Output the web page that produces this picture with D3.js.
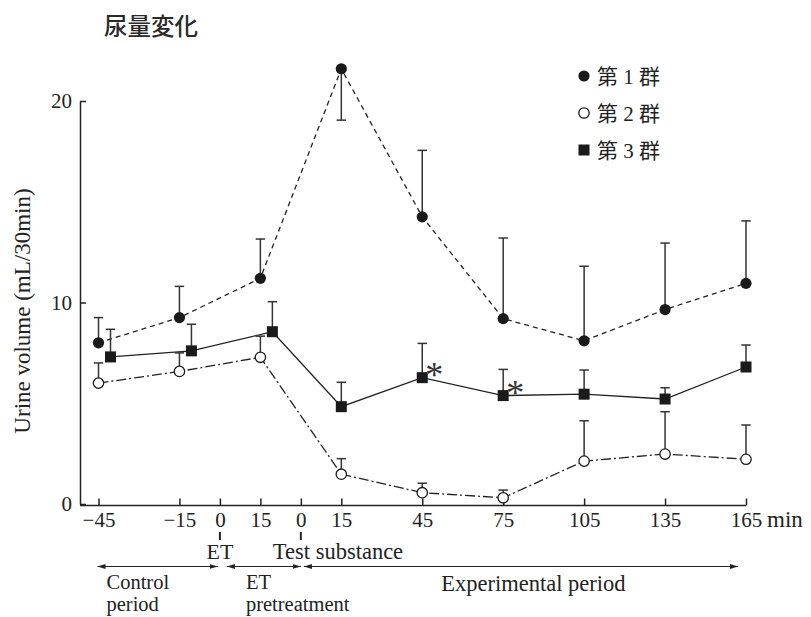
<!DOCTYPE html>
<html>
<head>
<meta charset="utf-8">
<script src="https://cdn.jsdelivr.net/npm/d3@7"></script>
<style>
  html, body { margin: 0; padding: 0; background: #fff; }
  svg { display: block; }
  text { fill: #222; }
</style>
</head>
<body>
<svg id="chart" width="811" height="617"></svg>
<script>
// Elapsed time (min) on a continuous axis: ET given at 0, test substance at 30.
const tickTimes  = [-45, -15, 0, 15, 30, 45, 75, 105, 135, 165, 195];
const tickLabels = ["\u221245", "\u221215", "0", "15", "0", "15", "45", "75", "105", "135", "165"];
const sampleTimes = [-45, -15, 15, 45, 75, 105, 135, 165, 195];
const yTicks = [0, 10, 20];

// Urine volume (mL/30min): mean and error-bar end point per sample
const group1Mean  = [8.0, 9.25, 11.2, 21.6, 14.25, 9.2, 8.1, 9.65, 10.95];
const group1Bound = [9.25, 10.8, 13.15, 19.05, 17.55, 13.2, 11.8, 12.95, 14.05];
const group2Mean  = [6.0, 6.58, 7.28, 1.48, 0.56, 0.31, 2.13, 2.48, 2.22];
const group2Bound = [7.0, 7.5, 8.33, 2.25, 1.03, 0.69, 4.13, 4.58, 3.92];
const group3Mean  = [7.3, 7.6, 8.55, 4.83, 6.27, 5.38, 5.45, 5.21, 6.8];
const group3Bound = [8.67, 8.92, 10.04, 6.04, 7.97, 6.68, 6.65, 5.77, 7.89];
const group3Significant = [false, false, false, false, true, true, false, false, false];

const legendLabels = ["第 1 群", "第 2 群", "第 3 群"];
const periods = [
  { start: -45, end: 0,   lines: ["Control", "period"] },
  { start: 0,   end: 30,  lines: ["ET", "pretreatment"] },
  { start: 30,  end: 195, lines: ["Experimental period"] }
];
const events = [{ t: 0, label: "ET" }, { t: 30, label: "Test substance" }];

const serif = "'Liberation Serif', 'Noto Sans CJK JP', serif";
const ink = "#222";

const svg = d3.select("#chart");
const x = d3.scaleLinear().domain([-45, 195]).range([98.5, 746]);
const y = d3.scaleLinear().domain([0, 20]).range([504, 101]);

// Title
svg.append("text")
  .attr("x", 104).attr("y", 35)
  .style("font-family", "'Noto Sans CJK JP', sans-serif")
  .style("font-size", "23.5px").style("font-weight", 500)
  .style("fill", "#2a2a2a")
  .text("尿量変化");

// Y axis
const yAxis = svg.append("g")
  .attr("transform", "translate(80,0)")
  .call(d3.axisLeft(y).tickValues(yTicks).tickSizeInner(-6).tickSizeOuter(0).tickPadding(8));
yAxis.select(".domain").attr("stroke", ink).attr("stroke-width", 1.5);
yAxis.selectAll(".tick line").attr("stroke", ink).attr("stroke-width", 1.5);
yAxis.selectAll(".tick text")
  .style("font-family", serif).style("font-size", "21px").attr("fill", ink);

svg.append("text")
  .attr("transform", "translate(30,311) rotate(-90)")
  .attr("text-anchor", "middle")
  .style("font-family", serif).style("font-size", "23px")
  .text("Urine volume (mL/30min)");

// X axis
const xBase = y(0) + 1.5;
svg.append("line")
  .attr("x1", 80).attr("x2", x(195)).attr("y1", xBase).attr("y2", xBase)
  .attr("stroke", ink).attr("stroke-width", 1.5);
const xAxis = svg.append("g")
  .attr("transform", `translate(0,${xBase})`)
  .call(d3.axisBottom(x).tickValues(tickTimes)
    .tickFormat((d, i) => tickLabels[i])
    .tickSizeInner(-7).tickSizeOuter(0).tickPadding(7));
xAxis.select(".domain").remove();
xAxis.selectAll(".tick line").attr("stroke", ink).attr("stroke-width", 1.5);
xAxis.selectAll(".tick text")
  .style("font-family", serif).style("font-size", "21px").attr("fill", ink);

svg.append("text")
  .attr("x", x(195) + 21).attr("y", xBase + 21.5)
  .style("font-family", serif).style("font-size", "23px")
  .text("min");

// Event markers below the axis
events.forEach(e => {
  svg.append("line")
    .attr("x1", x(e.t)).attr("x2", x(e.t)).attr("y1", 532).attr("y2", 540)
    .attr("stroke", ink).attr("stroke-width", 2);
});
svg.append("text").attr("x", x(0)).attr("y", 559).attr("text-anchor", "middle")
  .style("font-family", serif).style("font-size", "22px").text(events[0].label);
svg.append("text").attr("x", x(30) - 28).attr("y", 559)
  .style("font-family", serif).style("font-size", "22.5px").text(events[1].label);

// Period arrows
const defs = svg.append("defs");
["start", "end"].forEach(k => {
  defs.append("marker")
    .attr("id", "arrow-" + k)
    .attr("viewBox", "0 0 10 6").attr("refX", k === "end" ? 10 : 0).attr("refY", 3)
    .attr("markerWidth", 8).attr("markerHeight", 5).attr("markerUnits", "userSpaceOnUse")
    .attr("orient", "auto")
    .append("path")
    .attr("d", k === "end" ? "M0,0L10,3L0,6Z" : "M10,0L0,3L10,6Z")
    .attr("fill", ink);
});
const arrowY = 566.5;
const insets = [[-1, 2], [7, 0], [3, 8]];
periods.forEach((p, i) => {
  svg.append("line")
    .attr("x1", x(p.start) + insets[i][0]).attr("x2", x(p.end) - insets[i][1])
    .attr("y1", arrowY).attr("y2", arrowY)
    .attr("stroke", ink).attr("stroke-width", 1.2)
    .attr("marker-start", "url(#arrow-start)").attr("marker-end", "url(#arrow-end)");
});
const periodText = (px, py, anchor, lines, size) => {
  const t = svg.append("text").attr("x", px).attr("y", py).attr("text-anchor", anchor)
    .style("font-family", serif).style("font-size", size + "px");
  lines.forEach((l, j) => t.append("tspan").attr("x", px).attr("dy", j ? 22.8 : 0).text(l));
};
periodText(x(-45) + 8, 588.5, "start", periods[0].lines, 20.5);
periodText(x(0) + 26, 588.5, "start", periods[1].lines, 20.5);
periodText((x(30) + x(195)) / 2 + 10, 591, "middle", periods[2].lines, 22.5);

// Group 3 is drawn slightly to the right during the pre-test periods
const dodge3 = t => (t < 30 ? 12 : 0);

const groups = [
  { mean: group1Mean, bound: group1Bound, dash: "5,4", shift: () => 0, marker: "filled" },
  { mean: group2Mean, bound: group2Bound, dash: "10,3,2,3", shift: () => 0, marker: "open" },
  { mean: group3Mean, bound: group3Bound, dash: null, shift: dodge3, marker: "square" }
];

const plot = svg.append("g");

groups.forEach(g => {
  const pts = sampleTimes.map((t, i) => ({ px: x(t) + g.shift(t), m: g.mean[i], b: g.bound[i] }));
  const line = d3.line().x(d => d.px).y(d => y(d.m));
  plot.append("path").datum(pts)
    .attr("d", line).attr("fill", "none")
    .attr("stroke", ink).attr("stroke-width", 1.3)
    .attr("stroke-dasharray", g.dash);
  g.pts = pts;
});

groups.forEach(g => {
  const eb = plot.append("g").attr("stroke", "#333").attr("stroke-width", 1.5);
  g.pts.forEach(d => {
    eb.append("line").attr("x1", d.px).attr("x2", d.px).attr("y1", y(d.m)).attr("y2", y(d.b));
    eb.append("line").attr("x1", d.px - 4.7).attr("x2", d.px + 4.7).attr("y1", y(d.b)).attr("y2", y(d.b));
  });
});

function drawMarker(sel, kind, cx, cy) {
  if (kind === "filled") {
    sel.append("circle").attr("cx", cx).attr("cy", cy).attr("r", 5.6).attr("fill", "#1a1a1a");
  } else if (kind === "open") {
    sel.append("circle").attr("cx", cx).attr("cy", cy).attr("r", 5.2)
      .attr("fill", "#fff").attr("stroke", "#1a1a1a").attr("stroke-width", 1.3);
  } else {
    sel.append("rect").attr("x", cx - 5.5).attr("y", cy - 5.5).attr("width", 11).attr("height", 11)
      .attr("fill", "#1a1a1a");
  }
}

groups.forEach(g => {
  const mk = plot.append("g");
  g.pts.forEach(d => drawMarker(mk, g.marker, d.px, y(d.m)));
});

// Significance marks on group 3
groups[2].pts.forEach((d, i) => {
  if (!group3Significant[i]) return;
  plot.append("text")
    .attr("x", d.px + 12).attr("y", y(d.m) + 9)
    .attr("text-anchor", "middle")
    .style("font-family", "'Liberation Serif', serif").style("font-size", "36px")
    .style("fill", "#333")
    .text("*");
});

// Legend
const legend = svg.append("g");
legendLabels.forEach((lab, i) => {
  const ly = 76 + i * 37;
  drawMarker(legend, groups[i].marker, 584, ly);
  legend.append("text")
    .attr("x", 597).attr("y", ly + 8)
    .style("font-family", serif).style("font-size", "21px")
    .text(lab);
});
</script>
</body>
</html>
